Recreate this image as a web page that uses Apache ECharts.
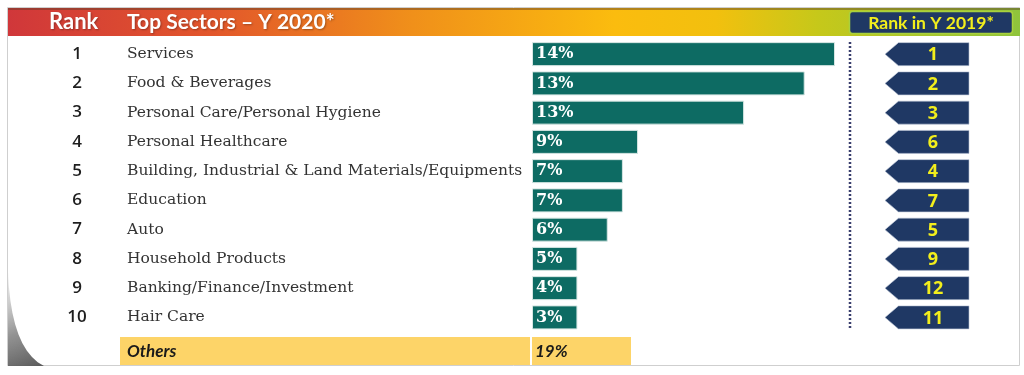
<!DOCTYPE html>
<html>
<head>
<meta charset="utf-8">
<script src="https://cdn.jsdelivr.net/npm/echarts@6/dist/echarts.min.js"></script>
<style>
  html, body { margin: 0; padding: 0; background: #fff; }
  #chart { width: 1024px; height: 375px; }
</style>
</head>
<body>
<div id="chart"></div>
<script>
// data
const sectors = ['Services', 'Food & Beverages', 'Personal Care/Personal Hygiene', 'Personal Healthcare',
  'Building, Industrial & Land Materials/Equipments', 'Education', 'Auto', 'Household Products',
  'Banking/Finance/Investment', 'Hair Care'];
const rank2020 = [1, 2, 3, 4, 5, 6, 7, 8, 9, 10];
const share2020 = [14, 13, 13, 9, 7, 7, 6, 5, 4, 3];
// bar lengths as drawn in the source (not proportional to the share labels)
const barLength = [14, 12.6, 9.8, 4.9, 4.2, 4.2, 3.5, 2.1, 2.1, 2.1];
const rank2019 = [1, 2, 3, 6, 4, 7, 5, 9, 12, 11];
const othersLabel = 'Others';
const othersShare = 19;

let myChart = echarts.init(document.getElementById('chart'));

const gridTop = 39.5, gridHeight = 292.5;

// lower-left page curl shadow, as a polygon
const curl = [[8, 272]];
for (let t = 0.1; t <= 1.0001; t += 0.1) {
  // quadratic curve from (8,272) via (11,350) to (44,366)
  const x = (1 - t) * (1 - t) * 8 + 2 * (1 - t) * t * 11 + t * t * 44;
  const y = (1 - t) * (1 - t) * 272 + 2 * (1 - t) * t * 350 + t * t * 366;
  curl.push([x, y]);
}
curl.push([8, 366]);

myChart.setOption({
  animation: false,
  grid: [
    { left: 532, top: gridTop, width: 303, height: gridHeight },
    { left: 885, top: gridTop, width: 84, height: gridHeight }
  ],
  xAxis: [
    { gridIndex: 0, type: 'value', min: 0, max: 14, show: false },
    { gridIndex: 1, type: 'value', min: 0, max: 1, show: false }
  ],
  yAxis: [
    {
      gridIndex: 0, type: 'category', inverse: true, data: sectors,
      axisLine: { show: false }, axisTick: { show: false }, splitLine: { show: false },
      axisLabel: { align: 'left', margin: 405, padding: [3, 0, 0, 0], fontFamily: 'DejaVu Serif', fontSize: 15.5, color: '#333' }
    },
    {
      gridIndex: 0, type: 'category', inverse: true, position: 'left', data: rank2020.map(String),
      axisLine: { show: false }, axisTick: { show: false }, splitLine: { show: false },
      axisLabel: { align: 'center', margin: 455, padding: [3, 0, 0, 0], fontFamily: 'Open Sans', fontWeight: 600, fontSize: 17, color: '#1e1e1e' }
    },
    {
      gridIndex: 1, type: 'category', inverse: true, data: sectors, show: false
    }
  ],
  series: [
    {
      name: 'Share 2020',
      type: 'bar',
      xAxisIndex: 0, yAxisIndex: 0,
      barWidth: 24,
      data: barLength,
      itemStyle: { color: '#0d6b63', borderColor: '#d6e6e3', borderWidth: 1 },
      label: {
        show: true, position: 'insideLeft', distance: 4,
        formatter: p => share2020[p.dataIndex] + '%',
        fontFamily: 'DejaVu Serif', fontWeight: 'bold', fontSize: 16, color: '#fff'
      }
    },
    {
      name: 'Rank 2019',
      type: 'scatter',
      xAxisIndex: 1, yAxisIndex: 2,
      symbol: 'path://M0,50 L16,0 L100,0 L100,100 L16,100 Z',
      symbolSize: [84, 23],
      data: rank2019.map((r, i) => [0.5, i]),
      itemStyle: { color: '#1f3864', borderColor: '#b9c3d6', borderWidth: 0.5, opacity: 1 },
      label: {
        show: true, position: 'inside', offset: [6, 1],
        formatter: p => String(rank2019[p.dataIndex]),
        fontFamily: 'Open Sans', fontWeight: 'bold', fontSize: 18, color: '#f2ee1c'
      }
    }
  ],
  graphic: [
    // frame
    { type: 'rect', silent: true, shape: { x: 7.5, y: 7.5, width: 1012, height: 358 }, style: { fill: 'none', stroke: '#cfcfcf', lineWidth: 1 } },
    {
      type: 'polygon', silent: true,
      shape: { points: curl },
      style: { fill: { type: 'linear', x: 0, y: 0, x2: 1, y2: 1, colorStops: [
        { offset: 0, color: 'rgba(170,170,170,0.15)' },
        { offset: 0.6, color: 'rgba(120,120,120,0.8)' },
        { offset: 1, color: 'rgba(90,90,90,1)' }
      ] } }
    },
    // header band
    {
      type: 'rect', silent: true,
      shape: { x: 8, y: 8, width: 1012, height: 28 },
      style: { fill: { type: 'linear', x: 0, y: 0, x2: 1, y2: 0, colorStops: [
        { offset: 0, color: '#d0373a' },
        { offset: 0.2, color: '#e2562b' },
        { offset: 0.4, color: '#f0901a' },
        { offset: 0.6, color: '#fbbc0e' },
        { offset: 0.7, color: '#f2c00e' },
        { offset: 0.8, color: '#c6c81a' },
        { offset: 1, color: '#8fc43c' }
      ] } }
    },
    { type: 'rect', silent: true, shape: { x: 8, y: 8, width: 1012, height: 2 }, style: { fill: 'rgba(90,60,40,0.45)' } },
    { type: 'text', silent: true, x: 49, y: 22, style: { text: 'Rank', verticalAlign: 'middle', fontFamily: 'Lato', fontWeight: 'bold', fontSize: 22, fill: '#fff', textShadowColor: 'rgba(0,0,0,0.3)', textShadowBlur: 2, textShadowOffsetX: 1, textShadowOffsetY: 1 } },
    { type: 'text', silent: true, x: 127, y: 22, style: { text: 'Top Sectors \u2013 Y 2020*', verticalAlign: 'middle', fontFamily: 'Lato', fontWeight: 'bold', fontSize: 21, fill: '#fff', textShadowColor: 'rgba(0,0,0,0.3)', textShadowBlur: 2, textShadowOffsetX: 1, textShadowOffsetY: 1 } },
    // rank in 2019 header box
    { type: 'rect', silent: true, shape: { x: 849.5, y: 11.5, width: 163, height: 22, r: 3 }, style: { fill: '#1f3864', stroke: '#a9d13e', lineWidth: 1.5 } },
    { type: 'text', silent: true, x: 931, y: 23, style: { text: 'Rank in Y 2019*', align: 'center', verticalAlign: 'middle', fontFamily: 'Lato', fontWeight: 'bold', fontSize: 17.5, fill: '#f2ee1c' } },
    // dotted divider
    { type: 'line', silent: true, shape: { x1: 850, y1: 42, x2: 850, y2: 328 }, style: { stroke: '#3a3f6e', lineWidth: 2.5, lineDash: [2, 2] } },
    // others row
    { type: 'rect', silent: true, shape: { x: 120, y: 337, width: 410, height: 28 }, style: { fill: '#fdd468' } },
    { type: 'rect', silent: true, shape: { x: 532, y: 337, width: 99, height: 28 }, style: { fill: '#fdd468' } },
    { type: 'text', silent: true, x: 127, y: 352, style: { text: othersLabel, verticalAlign: 'middle', fontFamily: 'Lato', fontWeight: 'bold', fontStyle: 'italic', fontSize: 17, fill: '#1a1a1a' } },
    { type: 'text', silent: true, x: 535, y: 352, style: { text: othersShare + '%', verticalAlign: 'middle', fontFamily: 'Lato', fontWeight: 'bold', fontStyle: 'italic', fontSize: 17, fill: '#1a1a1a' } }
  ]
});
</script>
</body>
</html>
